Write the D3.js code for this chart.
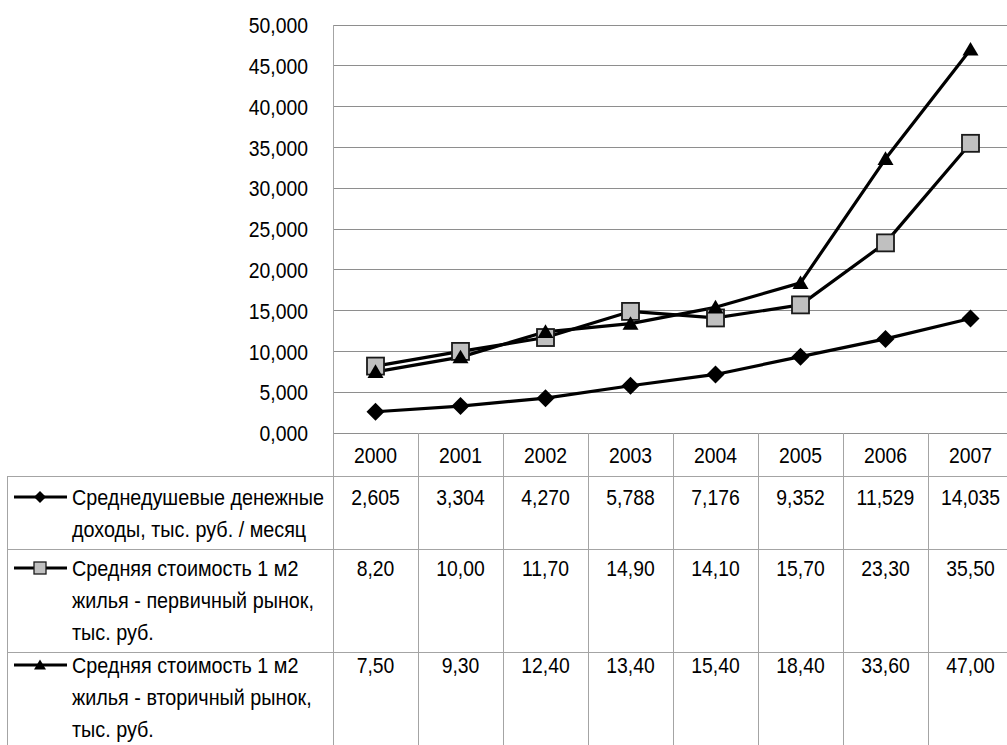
<!DOCTYPE html>
<html>
<head>
<meta charset="utf-8">
<script src="https://cdn.jsdelivr.net/npm/d3@7"></script>
<style>
  html, body { margin: 0; padding: 0; background: #fff; }
  svg { display: block; }
  text { font-family: "Liberation Sans", Arial, sans-serif; font-size: 22px; fill: #000; }
</style>
</head>
<body>
<svg id="chart" width="1007" height="745"></svg>
<script>
// Years along the category axis
const years = ["2000", "2001", "2002", "2003", "2004", "2005", "2006", "2007"];

// Series values, thousand roubles
const incomeValues = [2.605, 3.304, 4.270, 5.788, 7.176, 9.352, 11.529, 14.035];
const primaryValues = [8.20, 10.00, 11.70, 14.90, 14.10, 15.70, 23.30, 35.50];
const secondaryValues = [7.50, 9.30, 12.40, 13.40, 15.40, 18.40, 33.60, 47.00];

// Series names (line-broken as in the data table)
const incomeName = ["Среднедушевые денежные", "доходы, тыс. руб. / месяц"];
const primaryName = ["Средняя стоимость 1 м2", "жилья - первичный рынок,", "тыс. руб."];
const secondaryName = ["Средняя стоимость 1 м2", "жилья - вторичный рынок,", "тыс. руб."];

// Value axis ticks
const yTicks = [0, 5, 10, 15, 20, 25, 30, 35, 40, 45, 50];

// Number formats with a decimal comma
const fmt3 = v => v.toFixed(3).replace(".", ",");
const fmt2 = v => v.toFixed(2).replace(".", ",");

const series = [
  { name: incomeName, values: incomeValues, marker: "diamond", fmt: fmt3 },
  { name: primaryName, values: primaryValues, marker: "square", fmt: fmt2 },
  { name: secondaryName, values: secondaryValues, marker: "triangle", fmt: fmt2 }
];

const svg = d3.select("#chart");

// Glyphs are drawn slightly condensed
const SX = 0.88;

const plotLeft = 333, colW = 85;
const plotTop = 25, plotBottom = 433;
const plotRight = plotLeft + colW * years.length;
const tableLeft = 7;

const x = d3.scaleBand().domain(years).range([plotLeft, plotRight]);
const y = d3.scaleLinear().domain([0, 50]).range([plotBottom, plotTop]);
const cx = d => x(d) + x.bandwidth() / 2;

const gridColor = "#8e8e8e";
const tableColor = "#a4a4a4";

// Places a condensed text at (px, py)
function label(parent, px, py, str, anchor, sx) {
  return parent.append("text")
    .attr("transform", `translate(${px},${py}) scale(${sx || SX},1)`)
    .attr("text-anchor", anchor || "start")
    .attr("dy", "0.35em")
    .text(str);
}

// Horizontal gridlines
svg.append("g").selectAll("line").data(yTicks.filter(d => d > 0)).join("line")
  .attr("x1", plotLeft).attr("x2", plotRight)
  .attr("y1", d => y(d)).attr("y2", d => y(d))
  .attr("stroke", gridColor).attr("stroke-width", 1).attr("shape-rendering", "crispEdges");

// Value axis labels
const yAxis = d3.axisLeft(y).tickValues(yTicks).tickFormat(fmt3).tickSize(0).tickPadding(0);
const yg = svg.append("g").attr("transform", `translate(${plotLeft},0)`).call(yAxis);
yg.select(".domain").remove();
yg.selectAll("text")
  .attr("x", -25 / SX).attr("dy", "0.35em")
  .attr("transform", `scale(${SX},1)`)
  .style("font-size", "22px").style("font-family", "Liberation Sans, Arial, sans-serif")
  .attr("fill", "#000");

// Data table rows (header + one row per series); the last row runs past the bottom edge
const rowBounds = [plotBottom, 476, 549, 652];
const rowTextTop = [497, 568, 665];

// Horizontal table lines
svg.append("line").attr("x1", plotLeft).attr("x2", plotRight)
  .attr("y1", plotBottom).attr("y2", plotBottom)
  .attr("stroke", gridColor).attr("shape-rendering", "crispEdges");
svg.append("g").selectAll("line").data(rowBounds.slice(1)).join("line")
  .attr("x1", tableLeft).attr("x2", plotRight)
  .attr("y1", d => d).attr("y2", d => d)
  .attr("stroke", tableColor).attr("shape-rendering", "crispEdges");

// Left border of the table
svg.append("line").attr("x1", tableLeft).attr("x2", tableLeft)
  .attr("y1", rowBounds[1]).attr("y2", 745)
  .attr("stroke", tableColor).attr("shape-rendering", "crispEdges");

// Value axis line
svg.append("line").attr("x1", plotLeft).attr("x2", plotLeft)
  .attr("y1", plotTop).attr("y2", 745)
  .attr("stroke", tableColor).attr("shape-rendering", "crispEdges");

// Column separators
svg.append("g").selectAll("line").data(years.slice(1)).join("line")
  .attr("x1", d => x(d)).attr("x2", d => x(d))
  .attr("y1", plotBottom).attr("y2", 745)
  .attr("stroke", tableColor).attr("shape-rendering", "crispEdges");

// Year headers
const headG = svg.append("g");
years.forEach(yr => label(headG, cx(yr), (rowBounds[0] + rowBounds[1]) / 2 + 1, yr, "middle"));

// Marker shapes
function drawMarker(g, type, size) {
  if (type === "diamond") {
    g.append("path").attr("d", `M0,${-size}L${size},0L0,${size}L${-size},0Z`).attr("fill", "#000");
  } else if (type === "square") {
    g.append("rect").attr("x", -size).attr("y", -size).attr("width", 2 * size).attr("height", 2 * size)
      .attr("fill", "#c0c0c0").attr("stroke", "#1a1a1a").attr("stroke-width", size > 6 ? 1.8 : 1.3);
  } else {
    const h = size * 1.7;
    g.append("path").attr("d", `M0,${-h * 0.55}L${size},${h * 0.45}L${-size},${h * 0.45}Z`).attr("fill", "#000");
  }
}

const markerSize = { diamond: 9, square: 8.5, triangle: 8 };
const legendSize = { diamond: 6, square: 6, triangle: 6 };

const line = d3.line().x((d, i) => cx(years[i])).y(d => y(d));

series.forEach(s => {
  svg.append("path").datum(s.values)
    .attr("d", line).attr("fill", "none").attr("stroke", "#000")
    .attr("stroke-width", 3.2).attr("stroke-linejoin", "round");
});

series.forEach(s => {
  s.values.forEach((v, i) => {
    const g = svg.append("g").attr("transform", `translate(${cx(years[i])},${y(v)})`);
    drawMarker(g, s.marker, markerSize[s.marker]);
  });
});

// Table body: legend keys, series names and values
const lineGap = 32;
series.forEach((s, si) => {
  const first = rowTextTop[si];

  const key = svg.append("g").attr("transform", `translate(0,${first})`);
  key.append("line").attr("x1", 14).attr("x2", 67).attr("y1", 0).attr("y2", 0)
    .attr("stroke", "#000").attr("stroke-width", 2.8);
  drawMarker(key.append("g").attr("transform", "translate(40,0)"), s.marker, legendSize[s.marker]);

  const nameG = svg.append("g");
  s.name.forEach((t, k) => label(nameG, 72, first + k * lineGap, t, "start", 0.9));

  const valG = svg.append("g");
  s.values.forEach((v, i) => label(valG, cx(years[i]), first, s.fmt(v), "middle"));
});
</script>
</body>
</html>
